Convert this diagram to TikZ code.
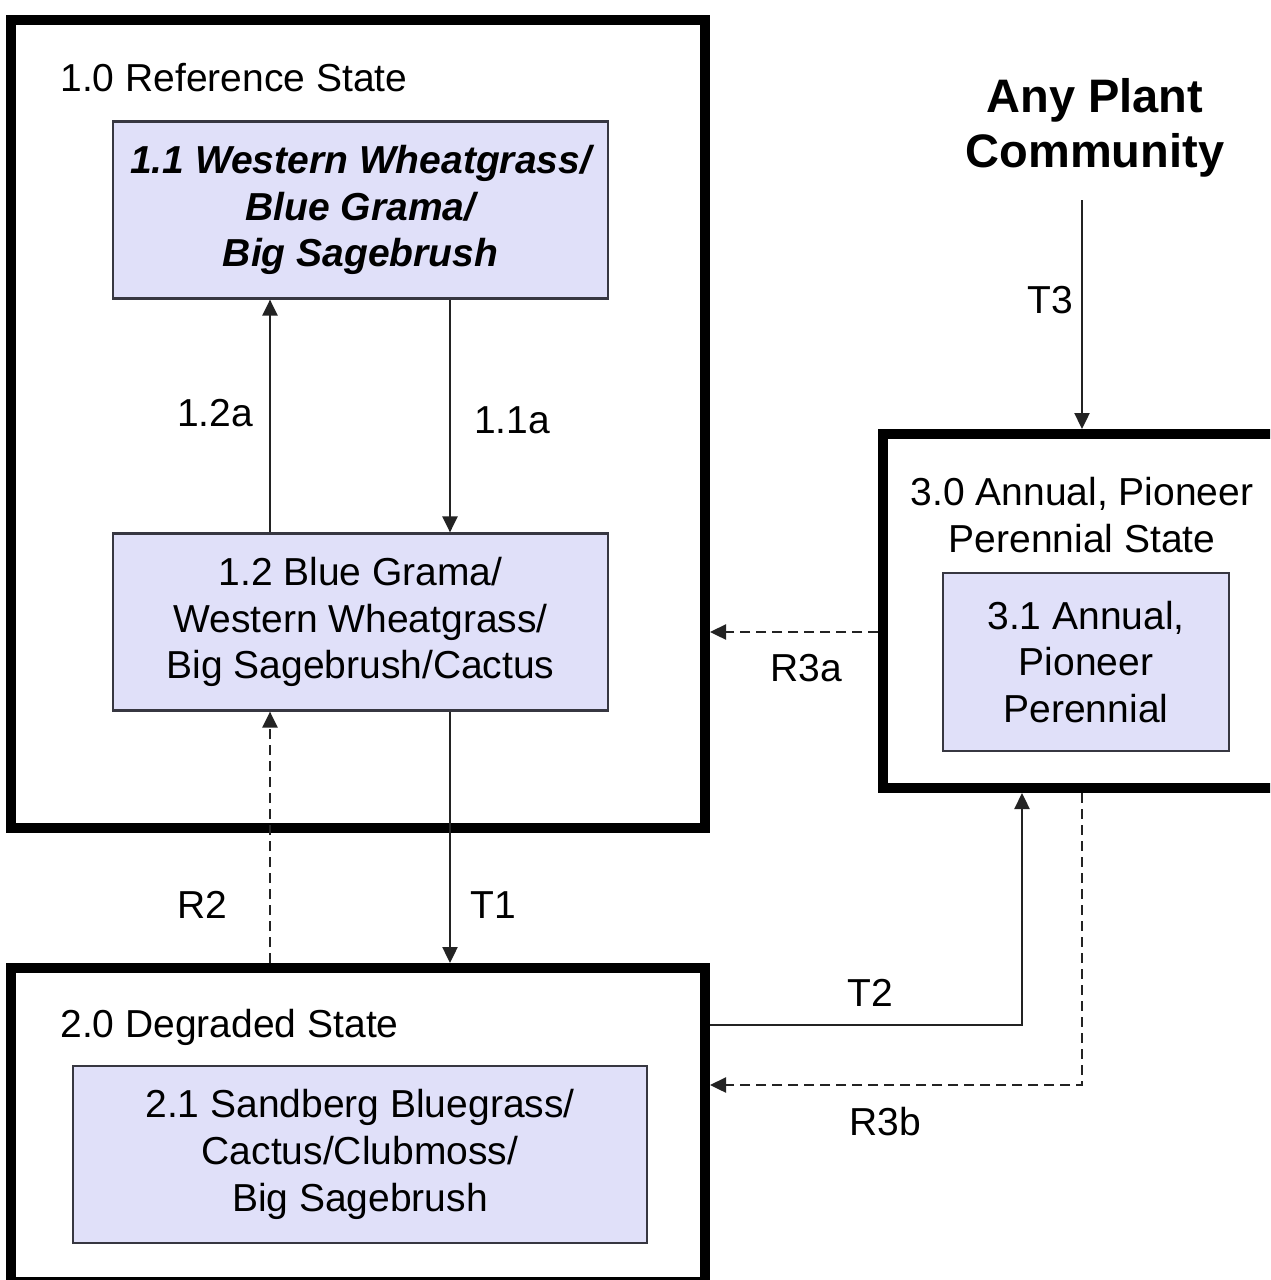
\documentclass[tikz,border=0pt]{standalone}
\usepackage{fontspec}
\setmainfont{Liberation Sans}
\usetikzlibrary{arrows.meta}
\definecolor{boxfill}{RGB}{224,224,249}
\definecolor{boxline}{RGB}{55,55,65}
\definecolor{conn}{RGB}{35,35,35}
\begin{document}
\begin{tikzpicture}[x=0.5pt,y=-0.5pt,
  statebox/.style={draw=black,line width=5pt,fill=white,rectangle,inner sep=0pt},
  commbox/.style={draw=boxline,line width=1.1pt,fill=boxfill,rectangle,inner sep=0pt,align=center,minimum width=247.5pt,minimum height=88.5pt,font=\fontsize{19.5}{23.3}\selectfont},
  lbl/.style={font=\fontsize{19.5}{23.3}\selectfont,inner sep=0pt,align=center},
  arr/.style={draw=conn,line width=1.2pt,-{Triangle[length=8pt,width=7.5pt]}},
  darr/.style={arr,dash pattern=on 5pt off 3pt},
]
\clip (0,0) rectangle (1270,1280);
\fill[white] (0,0) rectangle (1270,1280);

% state 1
\node[statebox,minimum width=347pt,minimum height=404pt] (S1) at (358,424) {};
\node[lbl,anchor=base west] (L1) at (60,91) {1.0 Reference State};
\node[commbox,font=\fontsize{19.5}{23.3}\selectfont\bfseries\itshape] (B11) at (360.5,210) {1.1 Western Wheatgrass/\\Blue Grama/\\Big Sagebrush};
\node[commbox] (B12) at (360.5,622) {1.2 Blue Grama/\\Western Wheatgrass/\\Big Sagebrush/Cactus};

% state 2
\node[statebox,minimum width=347pt,minimum height=157pt] (S2) at (358,1125) {};
\node[lbl,anchor=base west] (L2) at (60,1037) {2.0 Degraded State};
\node[commbox,minimum width=287pt] (B21) at (360,1154.5) {2.1 Sandberg Bluegrass/\\Cactus/Clubmoss/\\Big Sagebrush};

% state 3
\node[statebox,minimum width=208.5pt,minimum height=177pt] (S3) at (1091.5,611) {};
\node[lbl] (L3) at (1082,515) {3.0 Annual, Pioneer\\Perennial State};
\node[commbox,minimum width=143pt,minimum height=89pt] (B31) at (1086,662) {3.1 Annual,\\Pioneer\\Perennial};

\node[lbl,font=\fontsize{23.5}{27.5}\selectfont\bfseries] (APC) at (1095,128) {Any Plant\\Community};

% helper coordinates
\coordinate (xa) at (270,0);
\coordinate (xb) at (450,0);
\coordinate (xc) at (1082,0);
\coordinate (xd) at (1022,0);
\coordinate (ya) at (0,632);
\coordinate (yb) at (0,1025);
\coordinate (yc) at (0,1085);
\coordinate (t3s) at (1082,200);

% connectors
\draw[arr] (B12.north -| xa) -- (B11.south -| xa);
\draw[arr] (B11.south -| xb) -- (B12.north -| xb);
\draw[arr] (B12.south -| xb) -- (S2.north -| xb);
\draw[darr] (S2.north -| xa) -- (B12.south -| xa);
\draw[arr] (t3s) -- (S3.north -| xc);
\draw[darr] (S3.west |- ya) -- (S1.east |- ya);
\draw[arr] (S2.east |- yb) -| (S3.south -| xd);
\draw[darr] (S3.south -| xc) |- (S2.east |- yc);

% labels
\node[lbl] (l12a) at (215,413) {1.2a};
\node[lbl] (l11a) at (512,420) {1.1a};
\node[lbl] (lR2) at (202,905) {R2};
\node[lbl] (lT1) at (493,905) {T1};
\node[lbl] (lT3) at (1050,300) {T3};
\node[lbl] (lR3a) at (806,668) {R3a};
\node[lbl] (lT2) at (870,993) {T2};
\node[lbl] (lR3b) at (885,1122) {R3b};
\end{tikzpicture}
\end{document}
